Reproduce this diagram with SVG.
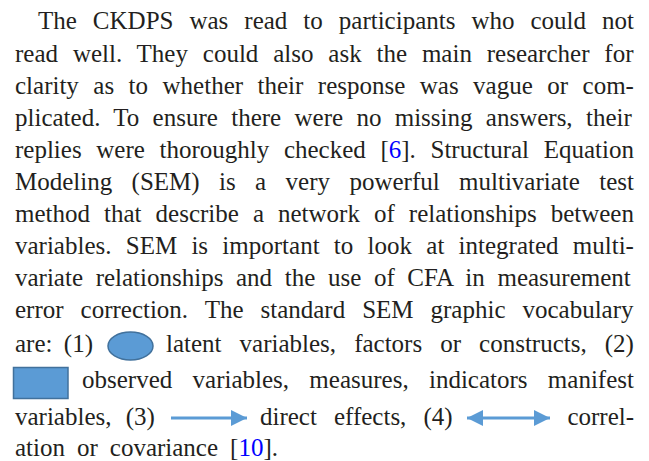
<svg xmlns="http://www.w3.org/2000/svg" width="649" height="461" viewBox="0 0 649 461">
<style>
.t{font-family:'Liberation Serif','Times New Roman',serif;font-size:25px;fill:#231f20}
.c{fill:#0000ff}
.ic{fill:#5b9bd5;stroke:#41719c;stroke-width:1.5}
.ln{stroke:#5b9bd5;stroke-width:3;fill:none}
</style>
<defs>
<marker id="ah" markerWidth="16" markerHeight="16" refX="16" refY="8" orient="auto-start-reverse" markerUnits="userSpaceOnUse" viewBox="0 0 16 16">
<path d="M0,0 L16,8 L0,16 z" fill="#5b9bd5"/>
</marker>
</defs>
<rect width="649" height="461" fill="#fff"/>
<g id="para">
<text class="t" x="38" y="29" word-spacing="9.75">The CKDPS was read to participants who could not</text>
<text class="t" x="15" y="62" word-spacing="8.61">read well. They could also ask the main researcher for</text>
<text class="t" x="15" y="94" word-spacing="8.22">clarity as to whether their response was vague or com-</text>
<text class="t" x="15" y="126" word-spacing="7.08">plicated. To ensure there were no missing answers, their</text>
<text class="t" x="15" y="158" word-spacing="8.4">replies were thoroughly checked [<tspan class="c">6</tspan>]. Structural Equation</text>
<text class="t" x="15" y="190" word-spacing="13.14">Modeling (SEM) is a very powerful multivariate test</text>
<text class="t" x="15" y="222" word-spacing="7.79">method that describe a network of relationships between</text>
<text class="t" x="15" y="254" word-spacing="8.02">variables. SEM is important to look at integrated multi-</text>
<text class="t" x="15" y="286" word-spacing="6.38">variate relationships and the use of CFA in measurement</text>
<text class="t" x="15" y="318" word-spacing="10.72">error correction. The standard SEM graphic vocabulary</text>
<text class="t" x="15" y="352" word-spacing="5.1">are: (1)</text>
<text class="t" x="166" y="352" word-spacing="11.81">latent variables, factors or constructs, (2)</text>
<text class="t" x="82" y="388" word-spacing="14.07">observed variables, measures, indicators manifest</text>
<text class="t" x="15" y="425" word-spacing="8">variables, (3)</text>
<text class="t" x="260" y="425" word-spacing="10.8">direct effects, (4)</text>
<text class="t" x="567.4" y="425">correl-</text>
<text class="t" x="15" y="456" word-spacing="5.75">ation or covariance [<tspan class="c">10</tspan>].</text>
</g>
<g id="latent-icon">
<ellipse class="ic" cx="130.5" cy="346" rx="22.5" ry="14"/>
</g>
<g id="observed-icon">
<rect class="ic" x="13.5" y="367.5" width="54.5" height="31"/>
</g>
<g id="connectors">
<line class="ln" x1="171" y1="418" x2="247" y2="418" marker-end="url(#ah)"/>
<line class="ln" x1="467" y1="418" x2="550" y2="418" marker-start="url(#ah)" marker-end="url(#ah)"/>
</g>
</svg>
